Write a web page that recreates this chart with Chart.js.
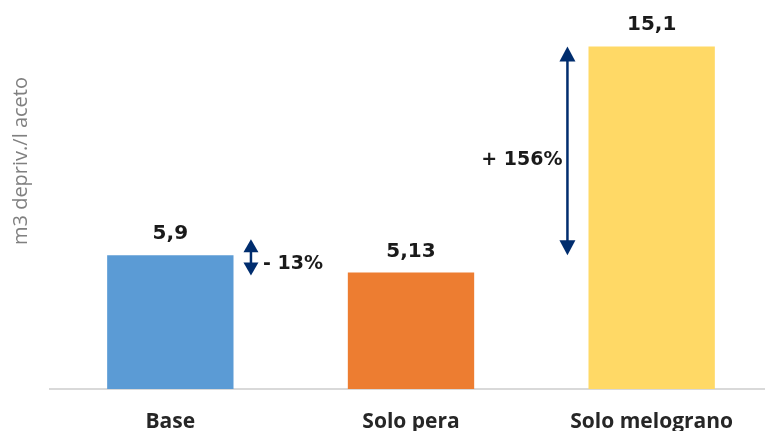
<!DOCTYPE html>
<html>
<head>
<meta charset="utf-8">
<script src="https://cdn.jsdelivr.net/npm/chart.js@4"></script>
<style>
  html, body { margin: 0; padding: 0; background: #fff; overflow: hidden; }
  #wrap { width: 765px; height: 431px; overflow: hidden; }
</style>
</head>
<body>
<div id="wrap"><canvas id="chart" width="772" height="431"></canvas></div>
<script>
const categories = ["Base", "Solo pera", "Solo melograno"];
const values = [5.9, 5.13, 15.1];
const barColors = ["#5B9BD5", "#ED7D31", "#FFD966"];

// double arrows between bars: x as category index, tips and label as y values
const arrowX = [0.335, 1.65];
const arrowTop = [6.6, 15.1];
const arrowBottom = [5.0, 5.9];
const arrowLabelY = [5.5, 10.1];
const arrowRef = [0, 0];   // reference bar for the percentage
const arrowCmp = [1, 2];   // compared bar

const navy = "#002D6E";

function fmt(v) {
  return String(v).replace(".", ",");
}

function pct(i) {
  const p = Math.round((values[arrowCmp[i]] - values[arrowRef[i]]) / values[arrowRef[i]] * 100);
  return (p < 0 ? "- " : "+ ") + Math.abs(p) + "%";
}

function drawHead(ctx, x, tipY, dir, w, len) {
  ctx.beginPath();
  ctx.moveTo(x, tipY);
  ctx.lineTo(x - w / 2, tipY + dir * len);
  ctx.lineTo(x + w / 2, tipY + dir * len);
  ctx.closePath();
  ctx.fill();
}

const labelsPlugin = {
  id: "labels",
  afterDatasetsDraw(chart) {
    const ctx = chart.ctx;
    const xs = chart.scales.x;
    const ys = chart.scales.y;

    // values above the bars
    ctx.save();
    ctx.font = "bold 20px 'DejaVu Sans'";
    ctx.fillStyle = "#1a1a1a";
    ctx.textAlign = "center";
    ctx.textBaseline = "alphabetic";
    chart.getDatasetMeta(0).data.forEach((bar, i) => {
      ctx.fillText(fmt(values[i]), bar.x, bar.y - 16);
    });

    // arrows
    const step = xs.getPixelForValue(1) - xs.getPixelForValue(0);
    arrowX.forEach((ax, i) => {
      const x = xs.getPixelForValue(0) + ax * step;
      const top = ys.getPixelForValue(arrowTop[i]);
      const bottom = ys.getPixelForValue(arrowBottom[i]);
      const big = bottom - top > 80;
      const w = big ? 16 : 15;
      const len = big ? 15 : 13;
      ctx.fillStyle = navy;
      ctx.strokeStyle = navy;
      ctx.lineWidth = 2.5;
      ctx.beginPath();
      ctx.moveTo(x, top + len - 1);
      ctx.lineTo(x, bottom - len + 1);
      ctx.stroke();
      drawHead(ctx, x, top, 1, w, len);
      drawHead(ctx, x, bottom, -1, w, len);

      ctx.font = "bold 19px 'DejaVu Sans'";
      ctx.fillStyle = "#1a1a1a";
      ctx.textBaseline = "middle";
      const ly = ys.getPixelForValue(arrowLabelY[i]);
      if (values[arrowCmp[i]] < values[arrowRef[i]]) {
        ctx.textAlign = "left";
        ctx.fillText(pct(i), x + 12, ly);
      } else {
        ctx.textAlign = "right";
        ctx.fillText(pct(i), x - 5, ly);
      }
    });

    // y axis title
    ctx.translate(21, 161);
    ctx.rotate(-Math.PI / 2);
    ctx.font = "20px 'Open Sans'";
    ctx.fillStyle = "#808080";
    ctx.textAlign = "center";
    ctx.textBaseline = "middle";
    ctx.fillText("m3 depriv./l aceto", 0, 0);
    ctx.restore();
  }
};

new Chart(document.getElementById("chart"), {
  type: "bar",
  data: {
    labels: categories,
    datasets: [{
      data: values,
      backgroundColor: barColors,
      borderWidth: 0,
      barPercentage: 1,
      categoryPercentage: 0.525
    }]
  },
  options: {
    responsive: false,
    animation: false,
    layout: { padding: { left: 50, top: 26, right: 0, bottom: 0 } },
    plugins: {
      legend: { display: false },
      tooltip: { enabled: false }
    },
    scales: {
      x: {
        grid: { display: false, drawTicks: false },
        border: { display: true, color: "#d9d9d9", width: 2 },
        ticks: {
          padding: 20,
          color: "#262626",
          font: { family: "'Open Sans'", size: 21, weight: "bold" }
        },
        afterFit(scale) { scale.height = 42; }
      },
      y: {
        display: false,
        min: 0,
        max: 16
      }
    }
  },
  plugins: [labelsPlugin]
});
</script>
</body>
</html>
